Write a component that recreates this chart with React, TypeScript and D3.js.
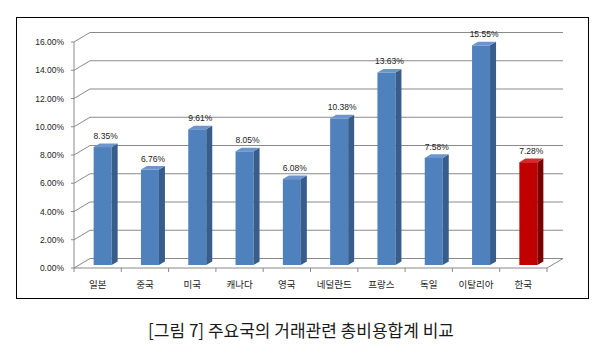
import React from 'react';
import * as d3 from 'd3';

// 주요국 거래관련 총비용합계
const countries = ['일본', '중국', '미국', '캐나다', '영국', '네덜란드', '프랑스', '독일', '이탈리아', '한국'];
const costs = [8.35, 6.76, 9.61, 8.05, 6.08, 10.38, 13.63, 7.58, 15.55, 7.28];
const yTicks = [0, 2, 4, 6, 8, 10, 12, 14, 16];
const highlight = '한국';

const W = 600, H = 359;
const left = 74, right = 547, base = 268, topY = 42;
const depth = { dx: 16, dy: -9.5 };     // wall depth
const barOff = { dx: 5, dy: -3 };       // bar front inside the depth
const barDepth = { dx: 6, dy: -3.6 };
const barW = 18;

const x = d3.scaleBand<string>().domain(countries).range([left, right]);
const y = d3.scaleLinear().domain([0, 16]).range([base, topY]);

const blue = { front: '#4f81bd', side: '#385d8a', top: '#6b95cc' };
const red = { front: '#c00000', side: '#7a0000', top: '#d62a2a' };

export default function App() {
  const pts = (p: number[][]) => p.map(d => d.join(',')).join(' ');

  return (
    <svg width={W} height={H} style={{ position: 'absolute', left: 0, top: 0, background: '#fff' }}>
      <rect x={16.5} y={17.5} width={572} height={281} fill="#fff" stroke="#000" strokeWidth={1} />

      {/* walls */}
      <g stroke="#8a8a8a" strokeWidth={1} fill="none">
        {yTicks.map(t => (
          <g key={t}>
            <line x1={left + depth.dx} x2={right + depth.dx} y1={y(t) + depth.dy} y2={y(t) + depth.dy} />
            <line x1={left} x2={left + depth.dx} y1={y(t)} y2={y(t) + depth.dy} />
            <line x1={left - 3} x2={left} y1={y(t)} y2={y(t)} />
          </g>
        ))}
        <line x1={left} x2={left} y1={y(16)} y2={base} />
        <line x1={left} x2={right} y1={base} y2={base} />
        <line x1={right} x2={right + depth.dx} y1={base} y2={base + depth.dy} />
        {countries.map((c, i) => (
          <line key={c} x1={x(c)! + x.bandwidth()} x2={x(c)! + x.bandwidth()} y1={base} y2={base + 4} />
        ))}
        <line x1={left} x2={left} y1={base} y2={base + 4} />
      </g>

      {/* y tick labels */}
      <g fontFamily="Liberation Sans, Arial, sans-serif" fontSize={8.5} fill="#222" textAnchor="end">
        {yTicks.map(t => (
          <text key={t} x={64} y={y(t) + 3}>{t.toFixed(2)}%</text>
        ))}
      </g>

      {/* bars */}
      {countries.map((c, i) => {
        const v = costs[i];
        const col = c === highlight ? red : blue;
        const cx = x(c)! + x.bandwidth() / 2 + barOff.dx;
        const x0 = cx - barW / 2, x1 = cx + barW / 2;
        const yt = y(v) + barOff.dy, yb = y(0) + barOff.dy;
        const dx = barDepth.dx, dy = barDepth.dy;
        return (
          <g key={c}>
            <rect x={x0} y={yt} width={barW} height={yb - yt} fill={col.front} />
            <polygon points={pts([[x1, yt], [x1 + dx, yt + dy], [x1 + dx, yb + dy], [x1, yb]])} fill={col.side} />
            <polygon points={pts([[x0, yt], [x0 + dx, yt + dy], [x1 + dx, yt + dy], [x1, yt]])} fill={col.top} />
            <text x={cx + 3} y={yt - 8} textAnchor="middle" fontFamily="Liberation Sans, Arial, sans-serif" fontSize={8.5} fill="#222">
              {v.toFixed(2)}%
            </text>
          </g>
        );
      })}

      {/* category labels */}
      <g fontFamily="Noto Sans CJK KR, sans-serif" fontSize={9.5} fill="#222" textAnchor="middle">
        {countries.map(c => (
          <text key={c} x={x(c)! + x.bandwidth() / 2} y={288}>{c}</text>
        ))}
      </g>

      <text x={301} y={337} textAnchor="middle" fontFamily="Noto Sans CJK KR, sans-serif" fontSize={17} fill="#1a1a1a">
        [그림 7] 주요국의 거래관련 총비용합계 비교
      </text>
    </svg>
  );
}
